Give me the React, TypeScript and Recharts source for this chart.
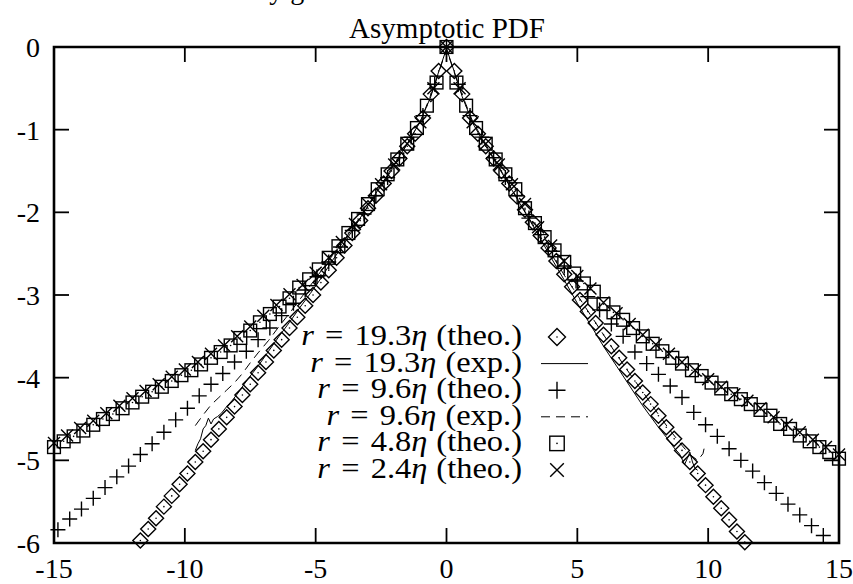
import React from 'react';
import { ScatterChart, Scatter, XAxis, YAxis, ReferenceArea } from 'recharts';

// ---------------- data ----------------
const xTicks = [-15, -10, -5, 0, 5, 10, 15];
const yTicks = [-6, -5, -4, -3, -2, -1, 0];

// r = 19.3 eta (theo.)  -- diamonds
const theo193X = [-11.7,-11.4,-11.1,-10.8,-10.5,-10.2,-9.9,-9.6,-9.3,-9.0,-8.7,-8.4,-8.1,-7.8,-7.5,-7.2,-6.9,-6.6,-6.3,-6.0,-5.7,-5.4,-5.1,-4.8,-4.5,-4.2,-3.9,-3.6,-3.3,-3.0,-2.7,-2.4,-2.1,-1.8,-1.5,-1.2,-0.9,-0.6,-0.3,0,0.3,0.6,0.9,1.2,1.5,1.8,2.1,2.4,2.7,3.0,3.3,3.6,3.9,4.2,4.5,4.8,5.1,5.4,5.7,6.0,6.3,6.6,6.9,7.2,7.5,7.8,8.1,8.4,8.7,9.0,9.3,9.6,9.9,10.2,10.5,10.8,11.1,11.4];
const theo193Y = [-5.97,-5.83,-5.70,-5.56,-5.43,-5.29,-5.16,-5.02,-4.89,-4.75,-4.62,-4.48,-4.35,-4.21,-4.08,-3.94,-3.81,-3.67,-3.54,-3.40,-3.27,-3.13,-3.00,-2.85,-2.70,-2.55,-2.40,-2.25,-2.10,-1.95,-1.80,-1.65,-1.50,-1.35,-1.20,-1.05,-0.86,-0.57,-0.29,0,-0.29,-0.57,-0.86,-1.05,-1.20,-1.35,-1.50,-1.65,-1.81,-1.97,-2.12,-2.28,-2.43,-2.59,-2.75,-2.90,-3.06,-3.20,-3.34,-3.48,-3.62,-3.76,-3.90,-4.04,-4.18,-4.32,-4.46,-4.60,-4.74,-4.88,-5.02,-5.16,-5.30,-5.44,-5.58,-5.72,-5.86,-5.99];

// r = 19.3 eta (exp.)  -- solid line
const exp193X = [-9.6,-9.5,-9.4,-9.3,-9.2,-9.1,-9.0,-8.9,-8.75,-8.6,-8.4,-8.2,-8.0,-7.6,-7.2,-6.8,-6.4,-6.0,-5.6,-5.2,-4.8,-4.4,-4.0,-3.5,-3.0,-2.5,-2.0,-1.5,-1.0,-0.6,-0.3,0,0.3,0.6,1.0,1.5,2.0,2.5,3.0,3.5,4.0,4.5,5.0,5.5,6.0,6.5,7.0,7.5,7.8,8.1,8.4,8.7,8.9,9.1,9.2,9.3,9.4,9.5,9.6];
const exp193Y = [-4.88,-4.80,-4.74,-4.62,-4.58,-4.49,-4.56,-4.50,-4.47,-4.43,-4.35,-4.28,-4.20,-4.02,-3.86,-3.68,-3.50,-3.33,-3.15,-2.98,-2.80,-2.60,-2.42,-2.17,-1.92,-1.67,-1.42,-1.17,-0.90,-0.60,-0.30,-0.02,-0.30,-0.60,-0.92,-1.20,-1.46,-1.73,-2.00,-2.27,-2.55,-2.82,-3.10,-3.36,-3.62,-3.86,-4.10,-4.34,-4.47,-4.60,-4.72,-4.85,-4.92,-5.05,-4.98,-4.90,-5.02,-5.10,-5.12];

// r = 9.6 eta (theo.)  -- plus
const theo96X = [-14.85,-14.4,-13.95,-13.5,-13.05,-12.6,-12.15,-11.7,-11.25,-10.8,-10.35,-9.9,-9.45,-9.0,-8.55,-8.1,-7.65,-7.2,-6.75,-6.3,-5.85,-5.4,-4.95,-4.5,-4.05,-3.6,-3.15,-2.7,-2.25,-1.8,-1.35,-0.9,-0.45,0,0.45,0.9,1.35,1.8,2.25,2.7,3.15,3.6,4.05,4.5,4.95,5.4,5.85,6.3,6.75,7.2,7.65,8.1,8.55,9.0,9.45,9.9,10.35,10.8,11.25,11.7,12.15,12.6,13.05,13.5,13.95,14.4];
const theo96Y = [-5.84,-5.71,-5.59,-5.46,-5.33,-5.20,-5.07,-4.93,-4.80,-4.66,-4.51,-4.37,-4.22,-4.08,-3.95,-3.81,-3.68,-3.54,-3.40,-3.25,-3.10,-2.94,-2.78,-2.60,-2.42,-2.22,-2.02,-1.80,-1.58,-1.34,-1.09,-0.83,-0.45,0,-0.45,-0.83,-1.09,-1.34,-1.58,-1.80,-2.07,-2.27,-2.47,-2.65,-2.83,-3.02,-3.18,-3.35,-3.50,-3.69,-3.83,-3.96,-4.10,-4.24,-4.42,-4.57,-4.71,-4.86,-5.00,-5.13,-5.27,-5.40,-5.53,-5.66,-5.79,-5.91];

// r = 9.6 eta (exp.)  -- dashed line
const exp96X = [-9.6,-9.3,-9.0,-8.7,-8.4,-8.1,-7.8,-7.5,-7.2,-6.8,-6.4,-6.0,-5.5,-5.0,-4.5,-4.0,-3.5,-3.0,-2.5,-2.0,-1.5,-1.0,-0.5,0,0.5,1.0,1.5,2.0,2.5,3.0,3.5,4.0,4.5,5.0,5.5,6.0,6.5,7.0,7.5,8.0,8.5,9.0,9.3,9.6,9.8,9.85];
const exp96Y = [-4.58,-4.45,-4.33,-4.24,-4.15,-4.06,-3.95,-3.82,-3.70,-3.55,-3.38,-3.22,-3.01,-2.80,-2.58,-2.38,-2.15,-1.93,-1.69,-1.44,-1.17,-0.90,-0.50,-0.03,-0.50,-0.90,-1.18,-1.45,-1.72,-1.99,-2.25,-2.50,-2.76,-3.00,-3.24,-3.48,-3.72,-3.95,-4.17,-4.40,-4.62,-4.82,-4.93,-5.00,-4.92,-4.85];

// r = 4.8 eta (theo.)  -- squares
const theo48X = [-15,-14.63,-14.25,-13.88,-13.5,-13.13,-12.75,-12.38,-12,-11.63,-11.25,-10.88,-10.5,-10.13,-9.75,-9.38,-9,-8.63,-8.25,-7.88,-7.5,-7.13,-6.75,-6.38,-6,-5.63,-5.25,-4.88,-4.5,-4.13,-3.75,-3.38,-3,-2.63,-2.25,-1.88,-1.5,-1.13,-0.75,-0.38,0,0.38,0.75,1.13,1.5,1.88,2.25,2.63,3,3.38,3.75,4.13,4.5,4.88,5.25,5.63,6,6.38,6.75,7.13,7.5,7.88,8.25,8.63,9,9.38,9.75,10.13,10.5,10.88,11.25,11.63,12,12.38,12.75,13.13,13.5,13.88,14.25,14.63,15];
const theo48Y = [-4.84,-4.77,-4.71,-4.64,-4.57,-4.50,-4.44,-4.37,-4.30,-4.23,-4.17,-4.11,-4.04,-3.97,-3.91,-3.84,-3.76,-3.69,-3.61,-3.52,-3.43,-3.33,-3.23,-3.14,-3.04,-2.91,-2.81,-2.69,-2.55,-2.41,-2.25,-2.08,-1.90,-1.72,-1.54,-1.36,-1.17,-0.98,-0.71,-0.43,0,-0.43,-0.71,-0.98,-1.17,-1.36,-1.54,-1.72,-1.95,-2.13,-2.30,-2.46,-2.60,-2.74,-2.86,-2.96,-3.11,-3.21,-3.30,-3.40,-3.50,-3.59,-3.68,-3.76,-3.83,-3.91,-3.98,-4.06,-4.13,-4.20,-4.26,-4.32,-4.39,-4.46,-4.56,-4.62,-4.70,-4.77,-4.84,-4.90,-4.98];

// r = 2.4 eta (theo.)  -- crosses
const theo24X = [-15,-14.5,-14,-13.5,-13,-12.5,-12,-11.5,-11,-10.5,-10,-9.5,-9,-8.5,-8,-7.5,-7,-6.5,-6,-5.5,-5,-4.5,-4,-3.5,-3,-2.5,-2,-1.5,-1,-0.5,0,0.5,1,1.5,2,2.5,3,3.5,4,4.5,5,5.5,6,6.5,7,7.5,8,8.5,9,9.5,10,10.5,11,11.5,12,12.5,13,13.5,14,14.5,15];
const theo24Y = [-4.79,-4.70,-4.61,-4.52,-4.43,-4.34,-4.25,-4.16,-4.08,-3.99,-3.90,-3.81,-3.71,-3.61,-3.50,-3.38,-3.25,-3.12,-2.99,-2.88,-2.73,-2.55,-2.36,-2.14,-1.90,-1.66,-1.42,-1.17,-0.91,-0.50,0,-0.50,-0.91,-1.17,-1.42,-1.66,-1.90,-2.18,-2.40,-2.59,-2.77,-2.92,-3.09,-3.22,-3.35,-3.48,-3.60,-3.71,-3.81,-3.91,-4.02,-4.11,-4.20,-4.28,-4.37,-4.48,-4.57,-4.66,-4.75,-4.84,-4.93];

const legendRadii = ['19.3', '19.3', '9.6', '9.6', '4.8', '2.4'];
const legendKinds = ['theo.', 'exp.', 'theo.', 'exp.', 'theo.', 'theo.'];
const legendMarks = ['diamond', 'solid', 'plus', 'dashed', 'square', 'cross'];

// ---------------- layout / style ----------------
const W = 853;
const H = 584;
const TOP = 47;
const RIGHT = 839;
const TICK = 15;
const FONT = "'Liberation Serif', 'Times New Roman', serif";

const zip = (xs: number[], ys: number[]) =>
  xs.slice(0, Math.min(xs.length, ys.length)).map((x, i) => ({ x, y: ys[i] }));

function Marker({ kind, cx, cy, s }: { kind: string; cx: number; cy: number; s: number }) {
  const st = { fill: 'none', stroke: '#000', strokeWidth: 1.4 };
  if (kind === 'diamond') {
    return (
      <g>
        <path d={`M${cx} ${cy - s}L${cx + s} ${cy}L${cx} ${cy + s}L${cx - s} ${cy}Z`} {...st} />
        <circle cx={cx} cy={cy} r={0.8} fill="#000" />
      </g>
    );
  }
  if (kind === 'square') {
    const h = s * 0.85;
    return (
      <g>
        <rect x={cx - h} y={cy - h} width={2 * h} height={2 * h} {...st} />
        <circle cx={cx} cy={cy} r={0.8} fill="#000" />
      </g>
    );
  }
  if (kind === 'plus') {
    return <path d={`M${cx - s} ${cy}H${cx + s}M${cx} ${cy - s}V${cy + s}`} {...st} />;
  }
  if (kind === 'cross') {
    const h = s * 0.8;
    return <path d={`M${cx - h} ${cy - h}L${cx + h} ${cy + h}M${cx - h} ${cy + h}L${cx + h} ${cy - h}`} {...st} />;
  }
  return <g />;
}

const shapeOf = (kind: string) => (p: any) =>
  p && typeof p.cx === 'number' ? <Marker kind={kind} cx={p.cx} cy={p.cy} s={7.5} /> : <g />;
const noShape = () => <g />;

const XTick = (props: any) => {
  const { x, y, payload } = props;
  return (
    <g>
      <line x1={x} x2={x} y1={y} y2={y - TICK} stroke="#000" strokeWidth={1.8} />
      <line x1={x} x2={x} y1={TOP} y2={TOP + TICK} stroke="#000" strokeWidth={1.8} />
      <text x={x} y={y + 35} textAnchor="middle" fontFamily={FONT} fontSize={28} fill="#000">
        {String(payload.value)}
      </text>
    </g>
  );
};

const YTick = (props: any) => {
  const { x, y, payload } = props;
  return (
    <g>
      <line x1={x} x2={x + TICK} y1={y} y2={y} stroke="#000" strokeWidth={1.8} />
      <line x1={RIGHT} x2={RIGHT - TICK} y1={y} y2={y} stroke="#000" strokeWidth={1.8} />
      <text x={x - 14} y={y + 10} textAnchor="end" fontFamily={FONT} fontSize={28} fill="#000">
        {String(payload.value)}
      </text>
    </g>
  );
};

export default function App() {
  const legendX = 522;
  const symX = 557;
  return (
    <div style={{ position: 'absolute', left: 0, top: 0, width: W, height: H, background: '#fff' }}>
      <ScatterChart width={W} height={H} margin={{ top: TOP, right: W - RIGHT, bottom: 0, left: 0 }}>
        <XAxis
          type="number"
          dataKey="x"
          domain={[-15, 15]}
          ticks={xTicks}
          interval={0}
          height={41}
          tickSize={0}
          tickMargin={0}
          tickLine={false}
          axisLine={false}
          tick={XTick}
        />
        <YAxis
          type="number"
          dataKey="y"
          domain={[-6, 0]}
          ticks={yTicks}
          interval={0}
          width={54}
          tickSize={0}
          tickMargin={0}
          tickLine={false}
          axisLine={false}
          tick={YTick}
        />
        <ReferenceArea x1={-15} x2={15} y1={-6} y2={0} fill="none" fillOpacity={0} stroke="#000" strokeWidth={2.6} />
        <Scatter data={zip(theo193X, theo193Y)} shape={shapeOf('diamond')} isAnimationActive={false} />
        <Scatter
          data={zip(exp193X, exp193Y)}
          line={{ stroke: '#000', strokeWidth: 1 }}
          lineType="joint"
          shape={noShape}
          isAnimationActive={false}
        />
        <Scatter data={zip(theo96X, theo96Y)} shape={shapeOf('plus')} isAnimationActive={false} />
        <Scatter
          data={zip(exp96X, exp96Y)}
          line={{ stroke: '#000', strokeWidth: 1, strokeDasharray: '9 6' }}
          lineType="joint"
          shape={noShape}
          isAnimationActive={false}
        />
        <Scatter data={zip(theo48X, theo48Y)} shape={shapeOf('square')} isAnimationActive={false} />
        <Scatter data={zip(theo24X, theo24Y)} shape={shapeOf('cross')} isAnimationActive={false} />
      </ScatterChart>
      <svg width={W} height={H} style={{ position: 'absolute', left: 0, top: 0, pointerEvents: 'none' }}>
        <text x={190} y={-1} fontFamily={FONT} fontSize={28} fill="#000">Velocity gradient</text>
        <text x={447} y={38} textAnchor="middle" fontFamily={FONT} fontSize={29} fill="#000">Asymptotic PDF</text>
        {legendRadii.map((r, i) => {
          const cy = 337 + i * 26.6;
          const mark = legendMarks[i];
          return (
            <g key={i}>
              <g transform={`translate(${legendX} 0) scale(1.12 1) translate(${-legendX} 0)`}>
                <text x={legendX} y={cy + 8} textAnchor="end" fontFamily={FONT} fontSize={29} fill="#000">
                  <tspan fontStyle="italic">r</tspan>
                  <tspan dx={10}>=</tspan>
                  <tspan dx={10}>{r}</tspan>
                  <tspan fontStyle="italic">η</tspan>
                  <tspan dx={8}>({legendKinds[i]})</tspan>
                </text>
              </g>
              {mark === 'solid' && <line x1={541} x2={588} y1={cy} y2={cy} stroke="#000" strokeWidth={1} />}
              {mark === 'dashed' && (
                <line x1={541} x2={588} y1={cy} y2={cy} stroke="#000" strokeWidth={1} strokeDasharray="9 6" />
              )}
              {mark !== 'solid' && mark !== 'dashed' && <Marker kind={mark} cx={symX} cy={cy} s={8.5} />}
            </g>
          );
        })}
      </svg>
    </div>
  );
}
